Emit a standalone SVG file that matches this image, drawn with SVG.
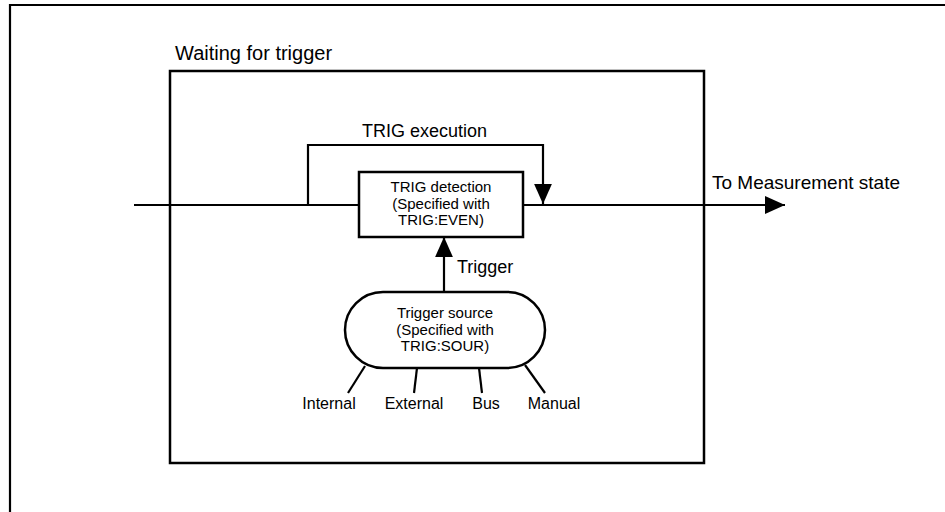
<svg xmlns="http://www.w3.org/2000/svg" width="945" height="512" viewBox="0 0 945 512">
<style>
.ln{fill:none;stroke:#000;stroke-width:2.2}
.bx{fill:#fff;stroke:#000;stroke-width:2.5}
.t{font-family:"Liberation Sans",Arial,sans-serif;fill:#000}
.lg{font-size:18px}
.xl{font-size:20px}
.ml{font-size:19px}
.sm{font-size:15px}
.md{font-size:16px}
</style>
<defs>
<marker id="ah" markerUnits="userSpaceOnUse" markerWidth="20" markerHeight="20" viewBox="0 0 18 16" refX="18" refY="8" orient="auto">
<path d="M0,0 L18,8 L0,16 Z" fill="#000"/>
</marker>
</defs>
<rect width="945" height="512" fill="#fff"/>
<g id="frame">
<path d="M10,512 V5 H945" class="ln" stroke-width="2.4"/>
</g>
<g id="waiting">
<rect x="170" y="71" width="534" height="392" class="bx" fill="none" stroke-width="2.8"/>
<text x="175" y="60" class="t xl">Waiting for trigger</text>
</g>
<g id="connectors">
<path d="M134,205 H785" class="ln" marker-end="url(#ah)"/>
<path d="M308,205 V145 H543 V204" class="ln" marker-end="url(#ah)"/>
<path d="M444,292 V237" class="ln" marker-end="url(#ah)"/>
<path d="M365,366 L348,393" class="ln"/>
<path d="M417,368 L414,393" class="ln"/>
<path d="M479,368 L482,393" class="ln"/>
<path d="M525,365 L545,393" class="ln"/>
<text x="362" y="137" class="t lg">TRIG execution</text>
<text x="457" y="273" class="t lg">Trigger</text>
<text x="712" y="189" class="t ml">To Measurement state</text>
</g>
<g id="detection">
<rect x="359" y="172" width="164" height="65" class="bx"/>
<text x="441" y="192" class="t sm" text-anchor="middle">TRIG detection</text>
<text x="441" y="209" class="t sm" text-anchor="middle">(Specified with</text>
<text x="441" y="225" class="t sm" text-anchor="middle">TRIG:EVEN)</text>
</g>
<g id="source">
<rect x="345" y="292" width="200" height="76" rx="38" ry="38" class="bx"/>
<text x="445" y="318" class="t sm" text-anchor="middle">Trigger source</text>
<text x="445" y="335" class="t sm" text-anchor="middle">(Specified with</text>
<text x="445" y="351" class="t sm" text-anchor="middle">TRIG:SOUR)</text>
</g>
<g id="labels">
<text x="329" y="409" class="t md" text-anchor="middle">Internal</text>
<text x="414" y="409" class="t md" text-anchor="middle">External</text>
<text x="486" y="409" class="t md" text-anchor="middle">Bus</text>
<text x="554" y="409" class="t md" text-anchor="middle">Manual</text>
</g>
</svg>
